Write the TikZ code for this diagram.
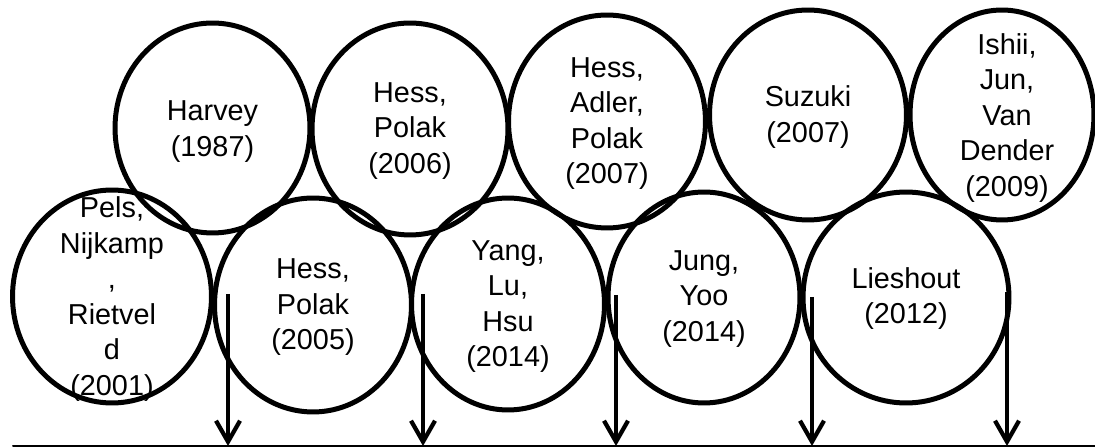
\documentclass[tikz,border=0pt]{standalone}
\usepackage{fontspec}
\setmainfont{Liberation Sans}
\usetikzlibrary{shapes.geometric,arrows.meta}

\begin{document}
\begin{tikzpicture}[x=0.02cm,y=-0.02cm,line cap=round,line join=round,
	study/.style={draw,ellipse,line width=0.1cm,inner sep=0pt},
	note/.style={align=center,inner sep=0pt,font=\fontsize{16.4}{20.2}\selectfont},
	pointer/.style={line width=0.085cm,line cap=butt,-{Straight Barb[length=0.42cm,width=0.48cm]}}]
	\useasboundingbox (0,0) rectangle (1095,448);
	% upper row
	\node[study,minimum width=3.9cm,minimum height=4.2cm] (harvey) at (212.5,128) {};
	\node[study,minimum width=3.92cm,minimum height=4.24cm] (hess06) at (410,129) {};
	\node[study,minimum width=3.94cm,minimum height=4.26cm] (adler07) at (607,121.5) {};
	\node[study,minimum width=3.94cm,minimum height=4.2cm] (suzuki07) at (808,115) {};
	\node[study,minimum width=3.68cm,minimum height=4.2cm] (ishii09) at (1002,115) {};
	% lower row
	\node[study,minimum width=3.98cm,minimum height=4.26cm] (pels01) at (112,296.5) {};
	\node[study,minimum width=3.94cm,minimum height=4.28cm] (hess05) at (313,305) {};
	\node[study,minimum width=3.86cm,minimum height=4.24cm] (yang14) at (508,304) {};
	\node[study,minimum width=3.84cm,minimum height=4.22cm] (jung14) at (704,297.5) {};
	\node[study,minimum width=4.12cm,minimum height=4.22cm] (lieshout12) at (906,297.5) {};
	% names inside the circles
	\node[note] (harvey-t) at ([yshift=-0.07cm]harvey) {Harvey\\(1987)};
	\node[note] (hess06-t) at ([yshift=-0.04cm]hess06) {Hess,\\Polak\\(2006)};
	\node[note] (adler07-t) at ([yshift=-0.04cm]adler07) {Hess,\\Adler,\\Polak\\(2007)};
	\node[note] (suzuki07-t) at ([yshift=-0.04cm]suzuki07) {Suzuki\\(2007)};
	\node[note] (ishii09-t) at ([xshift=0.1cm,yshift=-0.06cm]ishii09) {Ishii,\\Jun,\\Van\\Dender\\(2009)};
	\node[note] (pels01-t) at ([yshift=-0.05cm]pels01) {Pels,\\Nijkamp\\,\\Rietvel\\d\\(2001)};
	\node[note] (hess05-t) at ([yshift=-0.05cm]hess05) {Hess,\\Polak\\(2005)};
	\node[note] (yang14-t) at ([yshift=-0.05cm]yang14) {Yang,\\Lu,\\Hsu\\(2014)};
	\node[note] (jung14-t) at ([yshift=-0.03cm]jung14) {Jung,\\Yoo\\(2014)};
	\node[note] (lieshout12-t) at ([yshift=-0.02cm]lieshout12) {Lieshout\\(2012)};
	% time line
	\coordinate (L) at (13,446);
	\coordinate (R) at (1095,446);
	\draw[line width=0.04cm] (L) -- (R);
	\coordinate (a1) at (228,294);  \coordinate (b1) at (228,446);
	\coordinate (a2) at (423,294);  \coordinate (b2) at (423,446);
	\coordinate (a3) at (616,295);  \coordinate (b3) at (616,446);
	\coordinate (a4) at (812,297);  \coordinate (b4) at (812,446);
	\coordinate (a5) at (1007,292); \coordinate (b5) at (1007,446);
	\draw[pointer] (a1) -- (b1);
	\draw[pointer] (a2) -- (b2);
	\draw[pointer] (a3) -- (b3);
	\draw[pointer] (a4) -- (b4);
	\draw[pointer] (a5) -- (b5);
\end{tikzpicture}
\end{document}
